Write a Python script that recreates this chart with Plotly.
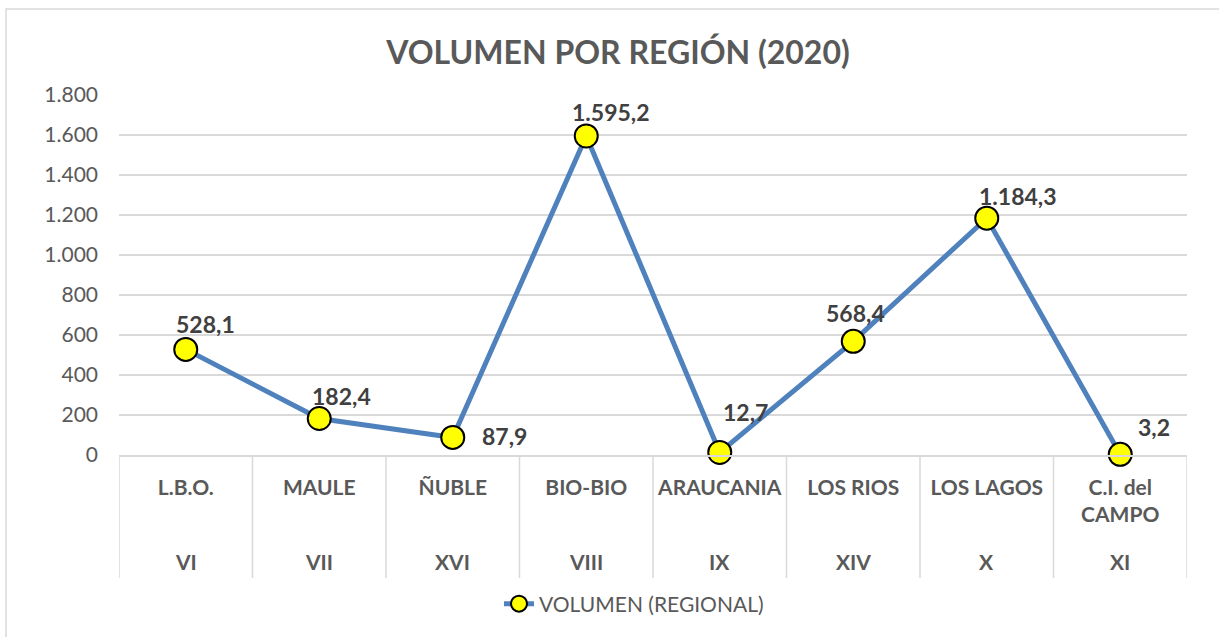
import plotly.graph_objects as go

# ---- data ----
regiones = ["L.B.O.", "MAULE", "ÑUBLE", "BIO-BIO", "ARAUCANIA", "LOS RIOS", "LOS LAGOS", "C.I. del<br>CAMPO"]
numerales = ["VI", "VII", "XVI", "VIII", "IX", "XIV", "X", "XI"]
volumen = [528.1, 182.4, 87.9, 1595.2, 12.7, 568.4, 1184.3, 3.2]
serie = "VOLUMEN (REGIONAL)"
titulo = "VOLUMEN POR REGIÓN (2020)"

# label offsets (px) for data labels, style only
label_dx = [20, 22, 52, 25, 26, 2, 31, 34]
label_dy = [25, 23, 1, 24, 40, 28, 22, 27]

W, H = 1219, 637
L, R, T, B = 119, 32, 95, 182
PW, PH = W - L - R, H - T - B

def fmt(v):
    s = f"{v:,.1f}"
    return s.replace(",", "X").replace(".", ",").replace("X", ".")

FONT = "Lato"
GRAY = "#595959"
GRID = "#D9D9D9"
xs = list(range(len(volumen)))

fig = go.Figure()
fig.add_trace(go.Scatter(
    x=xs, y=volumen, mode="lines+markers", name=serie, cliponaxis=False,
    line=dict(color="#4F81BD", width=5),
    marker=dict(size=23, color="#FFFF00", line=dict(color="black", width=2)),
))

annotations = []
for i, v in enumerate(volumen):
    annotations.append(dict(
        x=i, y=v, xref="x", yref="y", text=fmt(v), showarrow=False,
        xshift=label_dx[i], yshift=label_dy[i],
        font=dict(family=FONT, size=23, color="#404040", weight="bold"),
    ))
for i, n in enumerate(numerales):
    annotations.append(dict(
        x=i, y=-(561 - (T + PH)) / PH, xref="x", yref="paper", text=n, showarrow=False,
        yanchor="middle", font=dict(family=FONT, size=21, color=GRAY, weight="bold"),
    ))

shapes = []
for i in range(len(volumen) + 1):
    shapes.append(dict(
        type="line", xref="x", yref="paper", x0=i - 0.5, x1=i - 0.5,
        y0=0, y1=-(578 - (T + PH)) / PH, line=dict(color=GRID, width=1.5),
    ))
# chart border
shapes.append(dict(
    type="rect", xref="paper", yref="paper",
    x0=(6 - L) / PW, x1=(W + 20 - L) / PW,
    y0=-(H + 20 - (T + PH)) / PH, y1=((T + PH) - 9) / PH,
    line=dict(color=GRID, width=1.5), fillcolor="rgba(0,0,0,0)",
))

fig.update_layout(
    width=W, height=H,
    margin=dict(l=L, r=R, t=T, b=B, autoexpand=False),
    paper_bgcolor="white", plot_bgcolor="white",
    separators=",.",
    title=dict(text=titulo, x=618 / W, xanchor="center", xref="container",
               y=1 - 53 / H, yanchor="middle", yref="container",
               font=dict(family=FONT, size=32, color=GRAY, weight="bold")),
    xaxis=dict(range=[-0.5, len(volumen) - 0.5], tickmode="array", tickvals=xs,
               ticktext=regiones, showgrid=False, zeroline=False,
               showline=True, linecolor=GRID, linewidth=1.5, ticks="",
               ticklabelstandoff=13,
               tickfont=dict(family=FONT, size=21, color=GRAY, weight="bold")),
    yaxis=dict(range=[0, 1800], dtick=200, tickformat=",", showgrid=True,
               gridcolor=GRID, gridwidth=1.5, zeroline=False, showline=False,
               ticks="", ticklabelstandoff=20,
               tickfont=dict(family=FONT, size=21, color=GRAY)),
    showlegend=True,
    legend=dict(orientation="h", x=634 / W, xanchor="center", xref="container",
                y=1 - 604 / H, yanchor="middle", yref="container",
                font=dict(family=FONT, size=21, color=GRAY)),
    annotations=annotations, shapes=shapes,
)

fig.write_html("out.html", config={"displayModeBar": False},
               post_script="document.body.style.margin='0';document.body.style.overflow='hidden';")
